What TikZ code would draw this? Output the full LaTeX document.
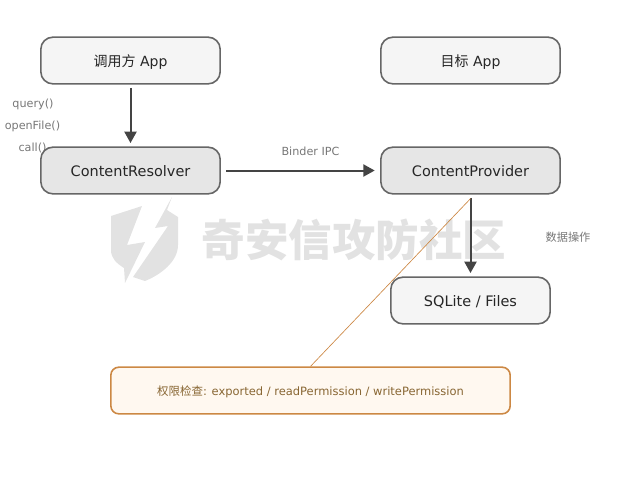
\documentclass[tikz,border=0pt]{standalone}
\usepackage{fontspec}
\setmainfont{DejaVu Sans}
\newfontfamily\cjk{Noto Sans CJK SC}
\usetikzlibrary{arrows.meta}
\definecolor{boxline}{HTML}{666666}
\definecolor{lightfill}{HTML}{F5F5F5}
\definecolor{darkfill}{HTML}{E6E6E6}
\definecolor{arrowcol}{HTML}{444444}
\definecolor{permline}{HTML}{CC8844}
\definecolor{permfill}{HTML}{FFF8F0}
\definecolor{permtext}{HTML}{886633}
\definecolor{labelcol}{HTML}{777777}
\definecolor{wm}{HTML}{E2E2E2}
\tikzset{
  x=0.75pt,y=-0.75pt,
  boxbase/.style={draw=boxline,line width=1.2pt,rounded corners=9pt,minimum height=35pt,inner sep=0pt,text=black!85,text height=8.6pt,text depth=0pt,font=\fontsize{10.85}{12}\selectfont},
  lightbox/.style={boxbase,fill=lightfill},
  darkbox/.style={boxbase,fill=darkfill},
  flow/.style={draw=arrowcol,line width=1.5pt,-{Triangle[length=8.5pt,width=9pt]}},
  small/.style={text=labelcol,font=\fontsize{8.4}{10}\selectfont,inner sep=0pt},
}
\begin{document}
\begin{tikzpicture}
\useasboundingbox (0,0) rectangle (620,480);
% watermark
\fill[wm] (111,216) -- (142,206) -- (127,245) -- (145,242) -- (125,283) -- (124,268) .. controls (116,263) and (111,258) .. (111,250) -- cycle;
\fill[wm] (172,197) -- (167,210) -- (178,217) -- (178,245) .. controls (178,262) and (160,275) .. (145,281) -- (133,277) -- (168,226) -- (155,228) -- cycle;
\node[text=wm,inner sep=0pt,font=\cjk\bfseries\fontsize{32.6}{36}\selectfont] (wmtext) at (354,240) {奇安信攻防社区};
% labels
\node[small] (q) at (33,104) {query()};
\node[small] (o) at (32.5,126) {openFile()};
\node[small] (c) at (32.5,148) {call()};
\node[small] (ipc) at (310.5,151) {Binder IPC};
\node[small] (dataop) at (568,237) {\cjk 数据操作};
% boxes
\node[lightbox,minimum width=134.5pt,font=\fontsize{10.5}{12}\selectfont] (caller) at (130.5,60.5) {{\cjk 调用方} App};
\node[lightbox,minimum width=134.5pt,font=\fontsize{10.5}{12}\selectfont] (target) at (470.5,60.5) {{\cjk 目标} App};
\node[darkbox,minimum width=134.5pt] (resolver) at (130.5,170.5) {ContentResolver};
\node[darkbox,minimum width=134.5pt] (provider) at (470.5,170.5) {ContentProvider};
\node[lightbox,minimum width=119.5pt] (sqlite) at (470.5,300.5) {SQLite / Files};
\node[boxbase,draw=permline,fill=permfill,text=permtext,rounded corners=6pt,minimum width=299.5pt,text height=6.8pt,font=\fontsize{8.6}{10}\selectfont] (perm) at (310.5,390.5) {{\cjk 权限检查}: exported / readPermission / writePermission};
\coordinate (tap) at ([yshift=-3pt]provider.south);
% connectors
\draw[flow,shorten <=2.5pt,shorten >=2.5pt] (caller) -- (resolver);
\draw[flow,shorten <=4pt,shorten >=4pt] (resolver) -- (provider);
\draw[flow,shorten <=2.5pt,shorten >=2.5pt] (provider) -- (sqlite);
\draw[permline,line width=0.5pt] (perm.north) -- (tap);
\end{tikzpicture}
\end{document}
